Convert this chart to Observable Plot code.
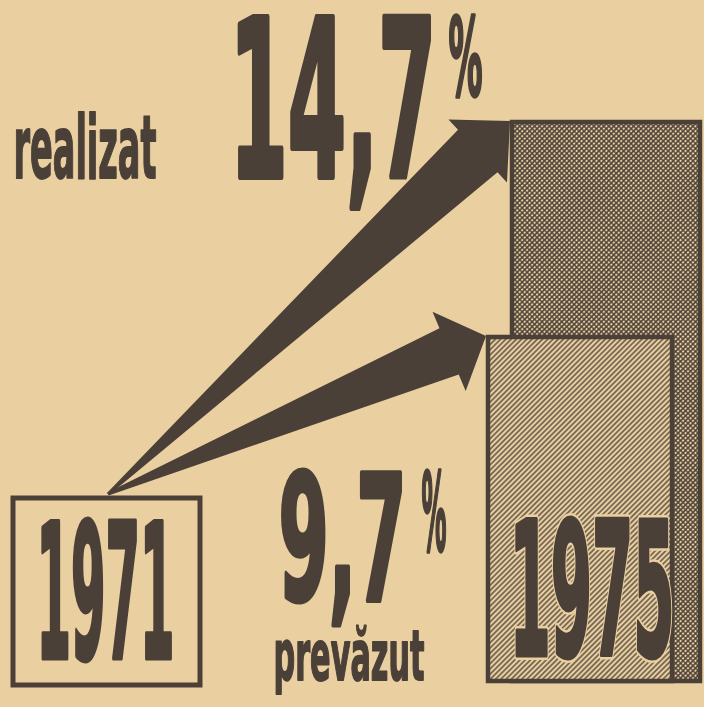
<!DOCTYPE html>
<html>
<head>
<meta charset="utf-8">
<script src="https://cdn.jsdelivr.net/npm/d3@7"></script>
<script src="https://cdn.jsdelivr.net/npm/@observablehq/plot@0.6"></script>
<style>
  html, body { margin: 0; padding: 0; background: #eacfa0; overflow: hidden; }
</style>
</head>
<body>
<div id="chart"></div>
<script>
// ---- data ----
const barSeries   = ["realizat", "prevăzut"];
const barValues   = [14.7, 9.7];
const valueLabels = ["14,7", "9,7"];
const unitLabel   = "%";
const yearLabels  = ["1971", "1975"];
const axisFloor   = 1.7;   // truncated baseline of the drawing

// ---- styling / layout ----
const W = 704, H = 707;
const PAPER = "#eacfa0", INK = "#4a4038";
const FONT = "'Liberation Sans Narrow','DejaVu Sans Condensed','Liberation Sans',sans-serif";

const barLayout = {
  "realizat": {x1: 512, x2: 700, pattern: "xhatch"},
  "prevăzut": {x1: 488, x2: 672, pattern: "dhatch"}
};
const bars = barSeries.map((s, i) => ({series: s, value: barValues[i], ...barLayout[s]}));

const arrowTail = [108, 494];
const arrowShape = {
  "realizat": {hl: 44, hw: 43, sw: 29, tw: 1.5},
  "prevăzut": {hl: 40, hw: 43, sw: 25, tw: 1.5}
};

function arrowsAndBox(...args) {
  const scales = args.find(a => a && typeof a.x === "function" && typeof a.y === "function");
  const ns = "http://www.w3.org/2000/svg";
  const g = document.createElementNS(ns, "g");
  g.setAttribute("aria-label", "arrows");
  const box = document.createElementNS(ns, "rect");
  box.setAttribute("x", 13); box.setAttribute("y", 498);
  box.setAttribute("width", 187); box.setAttribute("height", 187);
  box.setAttribute("fill", "none"); box.setAttribute("stroke", INK);
  box.setAttribute("stroke-width", 5);
  g.appendChild(box);
  for (const b of bars) {
    const sh = arrowShape[b.series];
    const P = [scales.x(b.x1) - 2, scales.y(b.value) - 1];
    const T = arrowTail;
    const dx = P[0] - T[0], dy = P[1] - T[1], L = Math.hypot(dx, dy);
    const u = [dx / L, dy / L], n = [-u[1], u[0]];
    const B = [P[0] - sh.hl * u[0], P[1] - sh.hl * u[1]];
    const pt = (p, k) => [p[0] + k * n[0], p[1] + k * n[1]];
    const pts = [pt(T, sh.tw), pt(B, sh.sw), pt(B, sh.hw), P, pt(B, -sh.hw), pt(B, -sh.sw), pt(T, -sh.tw)];
    const poly = document.createElementNS(ns, "polygon");
    poly.setAttribute("points", pts.map(p => p.join(",")).join(" "));
    poly.setAttribute("fill", INK);
    g.appendChild(poly);
  }
  return g;
}

function label(text, o) {
  return Plot.text([text], {
    text: d => d,
    frameAnchor: "top-left",
    dx: o.x, dy: o.y,
    textAnchor: "start",
    lineAnchor: "bottom",
    fontSize: o.fs,
    fontWeight: "bold",
    fontFamily: FONT,
    fill: o.halo ? PAPER : INK,
    stroke: o.halo ? PAPER : INK,
    strokeWidth: o.sw,
    strokeLinejoin: "round",
    paintOrder: "stroke"
  });
}

const labels = [
  {text: barSeries[0],   x: 13,  y: 177, fs: 88,  len: 143, sw: 1.8},
  {text: valueLabels[0], x: 229, y: 176, fs: 219, len: 207, sw: 6},
  {text: unitLabel,      x: 448, y: 94,  fs: 108, len: 34,  sw: 3.5},
  {text: valueLabels[1], x: 278, y: 599, fs: 174, len: 128, sw: 5},
  {text: unitLabel,      x: 421, y: 549, fs: 108, len: 25,  sw: 3.5},
  {text: barSeries[1],   x: 273, y: 679, fs: 70,  len: 151, sw: 1.8},
  {text: yearLabels[0],  x: 36,  y: 657, fs: 187, len: 138, sw: 5},
  {text: yearLabels[1],  x: 509, y: 654, fs: 185, len: 165, sw: 10, halo: true},
  {text: yearLabels[1],  x: 509, y: 654, fs: 185, len: 165, sw: 5}
];

const plot = Plot.plot({
  width: W, height: H,
  margin: 0,
  x: {domain: [0, W], range: [0, W], axis: null},
  y: {domain: [axisFloor, barValues[0]], range: [681, 122], axis: null},
  style: {background: PAPER, fontFamily: FONT, overflow: "visible"},
  marks: [
    Plot.rect([bars[0]], {x1: "x1", x2: "x2", y1: () => axisFloor, y2: "value",
      fill: "url(#xhatch)", stroke: INK, strokeWidth: 4.5}),
    Plot.rect([bars[1]], {x1: "x1", x2: "x2", y1: () => axisFloor, y2: "value",
      fill: "url(#dhatch)", stroke: INK, strokeWidth: 4.5}),
    arrowsAndBox,
    ...labels.map(l => label(l.text, l))
  ]
});

const ns = "http://www.w3.org/2000/svg";
const defs = document.createElementNS(ns, "defs");
defs.innerHTML = `
<pattern id="xhatch" width="3.5" height="3.5" patternUnits="userSpaceOnUse" patternTransform="rotate(45)">
  <rect width="3.5" height="3.5" fill="${PAPER}"/>
  <path d="M1.75,0V3.5M0,1.75H3.5" stroke="${INK}" stroke-width="1.5"/>
</pattern>
<pattern id="dhatch" width="3.7" height="3.7" patternUnits="userSpaceOnUse" patternTransform="rotate(45)">
  <rect width="3.7" height="3.7" fill="${PAPER}"/>
  <path d="M1.85,0V3.7" stroke="${INK}" stroke-width="1.3"/>
</pattern>`;
plot.insertBefore(defs, plot.firstChild);

// text marks render in the order given; condense each to its measured width
const textEls = Array.from(plot.querySelectorAll('g[aria-label="text"] text'));
textEls.forEach((t, i) => {
  const l = labels[i];
  if (l) {
    t.setAttribute("textLength", l.len);
    t.setAttribute("lengthAdjust", "spacingAndGlyphs");
  }
});

document.getElementById("chart").appendChild(plot);
</script>
</body>
</html>
